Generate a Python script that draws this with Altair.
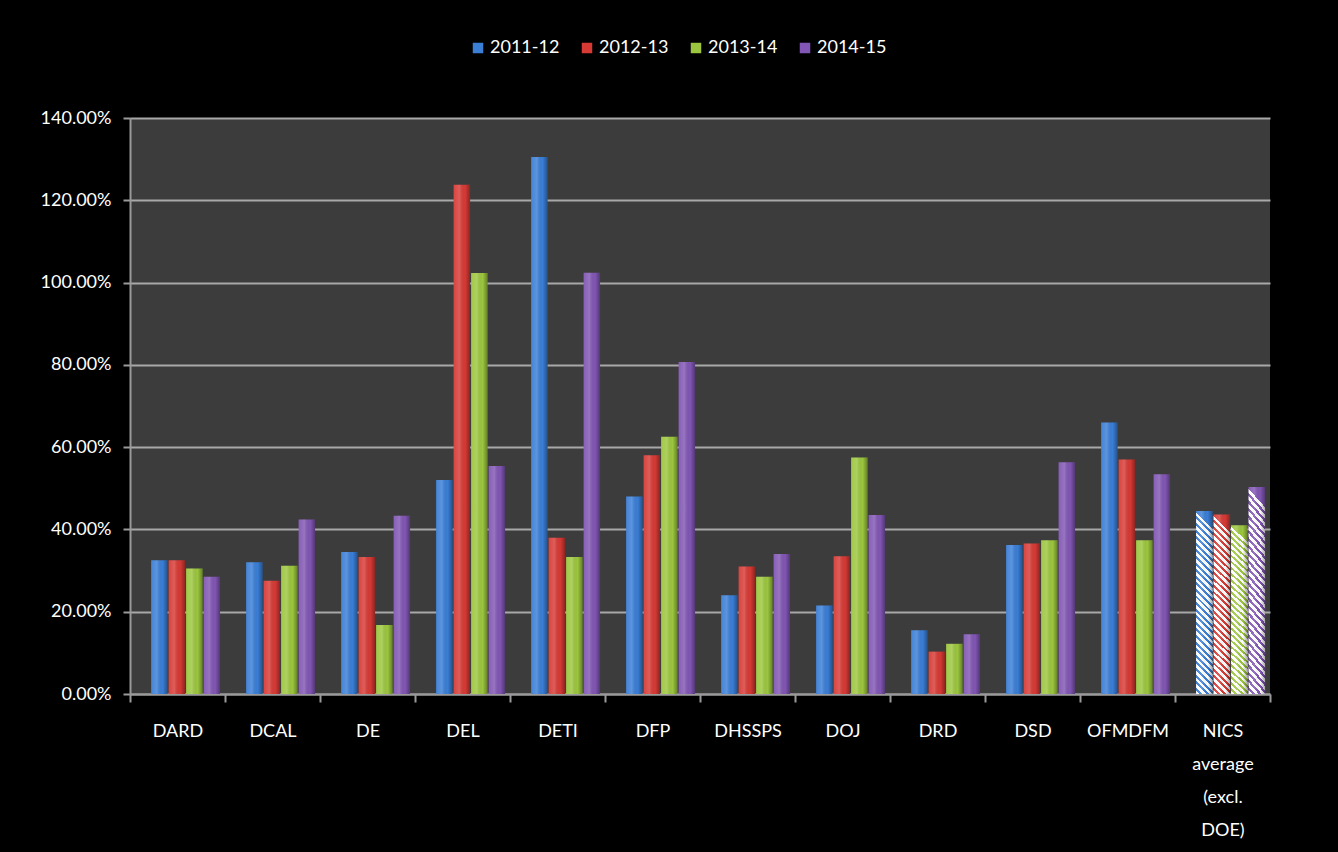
import altair as alt
import pandas as pd

categories = ["DARD", "DCAL", "DE", "DEL", "DETI", "DFP", "DHSSPS", "DOJ",
              "DRD", "DSD", "OFMDFM", "NICS average (excl. DOE)"]
series = ["2011-12", "2012-13", "2013-14", "2014-15"]
v_2011_12 = [32.5, 32.0, 34.5, 52.0, 130.5, 48.0, 24.0, 21.5, 15.5, 36.2, 66.0, 44.5]
v_2012_13 = [32.5, 27.5, 33.3, 123.8, 38.0, 58.0, 31.0, 33.5, 10.3, 36.6, 57.0, 43.6]
v_2013_14 = [30.5, 31.2, 16.8, 102.3, 33.3, 62.5, 28.5, 57.5, 12.2, 37.4, 37.4, 41.0]
v_2014_15 = [28.5, 42.4, 43.3, 55.4, 102.4, 80.7, 34.0, 43.5, 14.5, 56.3, 53.4, 50.3]
colors = ["#3a7ed6", "#d73a35", "#9cc63e", "#8156b4"]
y_ticks = [0, 0.2, 0.4, 0.6, 0.8, 1.0, 1.2, 1.4]

rows = []
for s, vals in zip(series, [v_2011_12, v_2012_13, v_2013_14, v_2014_15]):
    for c, v in zip(categories, vals):
        rows.append({"dept": c, "year": s, "value": v / 100})
df = pd.DataFrame(rows)

AXC = "#9a9a9a"
x = alt.X("dept:N", sort=categories,
          scale=alt.Scale(paddingInner=0, paddingOuter=0),
          axis=alt.Axis(title=None, labelAngle=0, labelExpr="split(datum.label, ' ')",
                        labelLineHeight=33, labelPadding=20, labelFontSize=18,
                        labelColor="white", tickBand="extent", tickSize=8,
                        domainColor=AXC, tickColor=AXC, domainWidth=2, tickWidth=2,
                        grid=False))
xo = alt.XOffset("year:N", sort=series,
                 scale=alt.Scale(paddingInner=0.06, paddingOuter=0.745, align=0.81))
y = alt.Y("value:Q", scale=alt.Scale(domain=[0, 1.4], nice=False),
          axis=alt.Axis(values=y_ticks, format=".2%", title=None, labelFontSize=18,
                        labelColor="white", gridColor="#a8a8a8", gridWidth=2,
                        tickSize=7, tickColor=AXC, domainColor=AXC, domainWidth=2,
                        tickWidth=2, labelPadding=12))

base = alt.Chart(df).mark_bar().encode(
    x=x, xOffset=xo, y=y,
    color=alt.Color("year:N", sort=series,
                    scale=alt.Scale(domain=series, range=colors),
                    legend=alt.Legend(title=None, orient="none", legendX=339, legendY=-79,
                                      direction="horizontal", symbolType="square",
                                      symbolSize=110, symbolStrokeWidth=0,
                                      labelFontSize=18, labelColor="white",
                                      columnPadding=18, labelOffset=3)),
)

N = 28
stops = []
for k in range(N):
    stops += [alt.GradientStop(offset=k / N, color="rgba(255,255,255,1)"),
              alt.GradientStop(offset=(k + 0.55) / N, color="rgba(255,255,255,1)"),
              alt.GradientStop(offset=(k + 0.55) / N, color="rgba(255,255,255,0)"),
              alt.GradientStop(offset=(k + 1) / N, color="rgba(255,255,255,0)")]
stripes = alt.Chart(df).transform_filter(
    alt.datum.dept == categories[-1]
).mark_bar(fill=alt.Gradient(gradient="linear", x1=0, y1=1, x2=0.09, y2=0, stops=stops)).encode(
    x=x, xOffset=xo, y=y)

shade = alt.Chart(df).mark_bar(fill=alt.Gradient(
    gradient="linear", x1=0, y1=0, x2=1, y2=0,
    stops=[alt.GradientStop(offset=0, color="rgba(255,255,255,0.05)"),
           alt.GradientStop(offset=0.35, color="rgba(255,255,255,0.18)"),
           alt.GradientStop(offset=0.7, color="rgba(0,0,0,0.0)"),
           alt.GradientStop(offset=1, color="rgba(0,0,0,0.35)")])).encode(
    x=x, xOffset=xo, y=y)

chart = alt.layer(base, stripes, shade).properties(
    width=1140, height=576,
    autosize=alt.AutoSizeParams(type="none"),
    padding={"left": 130, "top": 118, "right": 68, "bottom": 158},
    background="#000000",
).configure(font="Lato").configure_view(fill="#3c3c3c", strokeWidth=0)

chart.save("out.html", embed_options={"renderer": "svg", "actions": False})
